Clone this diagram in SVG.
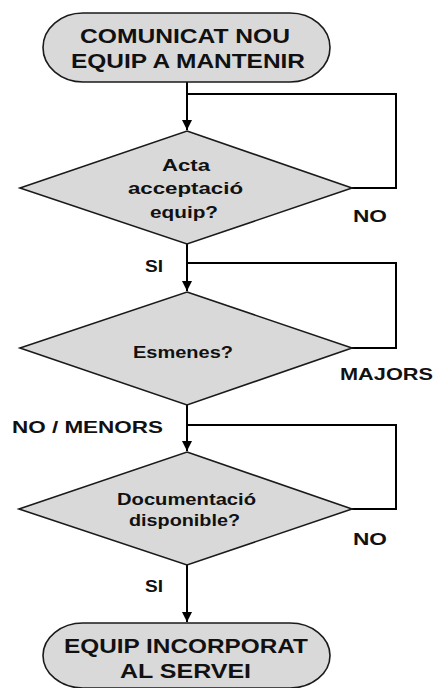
<svg xmlns="http://www.w3.org/2000/svg" width="444" height="688" viewBox="0 0 444 688">
<defs>
<style>
.shape{fill:#d9d9d9;stroke:#1a1a1a;stroke-width:1.6}
.conn{fill:none;stroke:#000;stroke-width:2}
.t{font-family:"Liberation Sans",Arial,sans-serif;font-weight:bold;fill:#111}
.big{font-size:20px}
.mid{font-size:16.5px}
</style>
<marker id="arr" viewBox="0 0 10 10" refX="10" refY="5" markerWidth="10" markerHeight="10" markerUnits="userSpaceOnUse" orient="auto">
<path d="M0,0 L10,5 L0,10 Z" fill="#000"/>
</marker>
</defs>
<rect width="444" height="688" fill="#fff"/>
<g id="connectors">
<line class="conn" x1="187" y1="82" x2="187" y2="130" marker-end="url(#arr)"/>
<polyline class="conn" points="352,188 396,188 396,94 187,94"/>
<line class="conn" x1="187" y1="244" x2="187" y2="291" marker-end="url(#arr)"/>
<polyline class="conn" points="352,348 396,348 396,263 187,263"/>
<line class="conn" x1="187" y1="405" x2="187" y2="451" marker-end="url(#arr)"/>
<polyline class="conn" points="352,509 396,509 396,425 187,425"/>
<line class="conn" x1="187" y1="565" x2="187" y2="622" marker-end="url(#arr)"/>
</g>
<g id="start">
<rect class="shape" x="43" y="13" width="287" height="69" rx="40" ry="34.5"/>
<text class="t big" x="80" y="43" textLength="210" lengthAdjust="spacingAndGlyphs">COMUNICAT NOU</text>
<text class="t big" x="71" y="68" textLength="234" lengthAdjust="spacingAndGlyphs">EQUIP A MANTENIR</text>
</g>
<g id="d1">
<polygon class="shape" points="187,131 352,188 187,244 20,188"/>
<text class="t mid" x="162" y="171" textLength="48" lengthAdjust="spacingAndGlyphs">Acta</text>
<text class="t mid" x="128" y="194" textLength="115" lengthAdjust="spacingAndGlyphs">acceptació</text>
<text class="t mid" x="150" y="218" textLength="68" lengthAdjust="spacingAndGlyphs">equip?</text>
</g>
<g id="d2">
<polygon class="shape" points="187,292 352,348 187,405 20,348"/>
<text class="t mid" x="133" y="358" textLength="100" lengthAdjust="spacingAndGlyphs">Esmenes?</text>
</g>
<g id="d3">
<polygon class="shape" points="187,452 352,509 187,565 19,509"/>
<text class="t mid" x="117" y="505" textLength="139" lengthAdjust="spacingAndGlyphs">Documentació</text>
<text class="t mid" x="129" y="526" textLength="111" lengthAdjust="spacingAndGlyphs">disponible?</text>
</g>
<g id="end">
<rect class="shape" x="43" y="623" width="287" height="65" rx="40" ry="32.5"/>
<text class="t big" x="64" y="653" textLength="244" lengthAdjust="spacingAndGlyphs">EQUIP INCORPORAT</text>
<text class="t big" x="120" y="678" textLength="131" lengthAdjust="spacingAndGlyphs">AL SERVEI</text>
</g>
<g id="labels">
<text class="t mid" x="353" y="222" textLength="34" lengthAdjust="spacingAndGlyphs">NO</text>
<text class="t mid" x="145" y="272" textLength="18" lengthAdjust="spacingAndGlyphs">SI</text>
<text class="t mid" x="340" y="380" textLength="93" lengthAdjust="spacingAndGlyphs">MAJORS</text>
<text class="t mid" x="12" y="433" textLength="151" lengthAdjust="spacingAndGlyphs">NO / MENORS</text>
<text class="t mid" x="353" y="545" textLength="34" lengthAdjust="spacingAndGlyphs">NO</text>
<text class="t mid" x="145" y="592" textLength="18" lengthAdjust="spacingAndGlyphs">SI</text>
</g>
</svg>
